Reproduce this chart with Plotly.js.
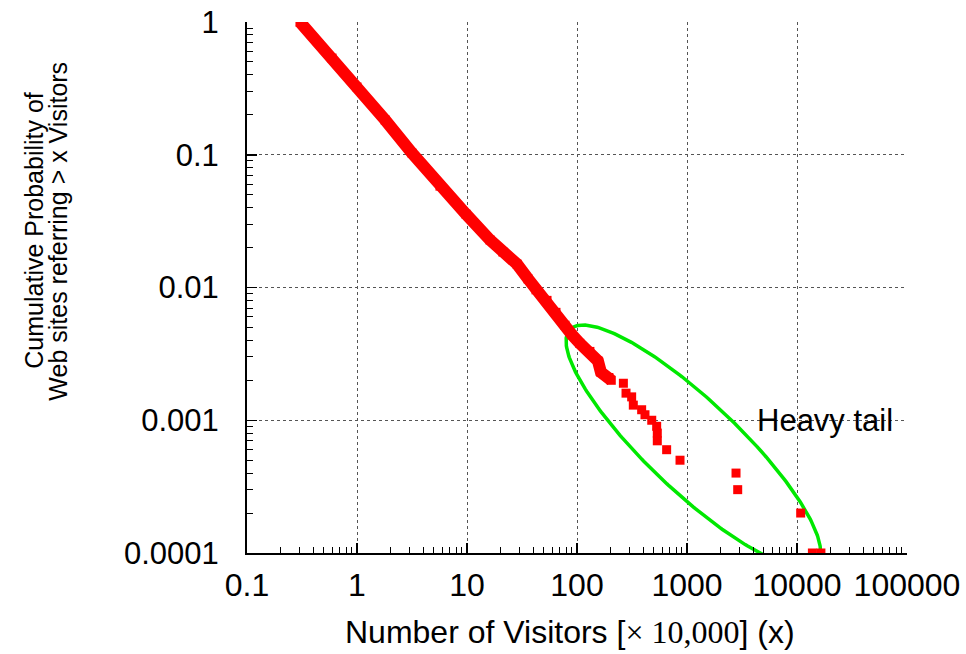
<!DOCTYPE html>
<html>
<head>
<meta charset="utf-8">
<script src="https://cdn.plot.ly/plotly-3.0.1.min.js"></script>
<style>html,body{margin:0;padding:0;background:#fff;}</style>
</head>
<body>
<div id="chart" style="width:966px;height:654px;"></div>
<script>
// Dense body of the distribution (visitors x10,000 ; cumulative probability)
const bodyVisitors = [0.303, 0.593, 1.0, 1.80, 3.16, 5.68, 9.8, 16.2, 21.2, 28.5, 35.9, 42.4, 53.4, 64.4, 77.8, 90.1, 106, 131, 155, 165, 195, 205];
const bodyProb     = [1.0, 0.535, 0.324, 0.183, 0.103, 0.058, 0.0357, 0.0228, 0.0185, 0.0150, 0.0116, 0.0096, 0.0080, 0.0065, 0.0052, 0.0044, 0.0038, 0.0033, 0.0028, 0.0023, 0.0021, 0.0020];

// Heavy tail points
const tailVisitors = [264, 279, 314, 325, 387, 415, 478, 530, 537, 537, 653, 864, 2790, 2890, 10800, 13800, 16500];
const tailProb     = [0.0019, 0.0016, 0.0015, 0.0013, 0.0012, 0.0011, 0.0010, 0.0009, 0.0008, 0.0007, 0.0006, 0.0005, 0.0004, 0.0003, 0.0002, 0.0001, 0.0001];

const xTickVals = [0.1, 1, 10, 100, 1000, 10000, 100000];
const xTickText = ["0.1", "1", "10", "100", "1000", "10000", "100000"];
const yTickVals = [0.0001, 0.001, 0.01, 0.1, 1];
const yTickText = ["0.0001", "0.001", "0.01", "0.1", "1"];

// ---- layout geometry ----
const W = 966, H = 654;
const M = {l: 247, r: 59, t: 22, b: 101};
const plotW = W - M.l - M.r, plotH = H - M.t - M.b;
const xRange = [-1, 5], yRange = [-4, 0];

function minorVals(lo, hi) {
  const v = [];
  for (let e = lo; e < hi; e++) for (let k = 2; k <= 9; k++) v.push(k * Math.pow(10, e));
  return v;
}

// Highlight ellipse (annotation shape) in plot-pixel space (origin bottom-left of plot area):
// centre plus two conjugate semi-diameters
const ellCentre = [446.3, 106.6];
const ellAxis1 = [63.5, 0];
const ellAxis2 = [-110.3, 121.4];
const ex = [], ey = [];
for (let i = 0; i <= 360; i++) {
  const t = i * Math.PI / 180;
  const px = ellCentre[0] + ellAxis1[0] * Math.cos(t) + ellAxis2[0] * Math.sin(t);
  const py = ellCentre[1] + ellAxis1[1] * Math.cos(t) + ellAxis2[1] * Math.sin(t);
  const lx = xRange[0] + (xRange[1] - xRange[0]) * px / plotW;
  const ly = yRange[0] + (yRange[1] - yRange[0]) * py / plotH;
  ex.push(Math.pow(10, lx)); ey.push(Math.pow(10, ly));
}

const red = '#ff0000';
const traces = [
  {x: ex, y: ey, type: 'scatter', mode: 'lines', line: {color: '#00e800', width: 3.5}, hoverinfo: 'skip', cliponaxis: true},
  {x: bodyVisitors, y: bodyProb, type: 'scatter', mode: 'lines+markers',
   line: {color: red, width: 12}, marker: {symbol: 'square', size: 9, color: red}},
  {x: tailVisitors, y: tailProb, type: 'scatter', mode: 'markers',
   marker: {symbol: 'square', size: 9, color: red}}
];

const fontFam = '"Liberation Sans", Arial, Helvetica, sans-serif';
const axisCommon = {
  type: 'log', showline: true, linecolor: '#000', linewidth: 2,
  ticks: 'inside', ticklen: 10, tickwidth: 1.5, tickcolor: '#000',
  showgrid: true, gridcolor: '#555', griddash: 'dot', gridwidth: 1,
  zeroline: false, tickmode: 'array'
};

const layout = {
  width: W, height: H,
  margin: M,
  paper_bgcolor: '#fff', plot_bgcolor: '#fff',
  showlegend: false,
  font: {family: fontFam, color: '#000'},
  xaxis: Object.assign({}, axisCommon, {
    range: xRange, tickvals: xTickVals, ticktext: xTickText,
    tickfont: {family: fontFam, size: 32, color: '#000'}, ticklabelstandoff: 3,
    minor: {tickmode: 'array', tickvals: minorVals(-1, 5), ticks: 'inside', ticklen: 6, tickcolor: '#000', tickwidth: 1, showgrid: false}
  }),
  yaxis: Object.assign({}, axisCommon, {
    range: yRange, tickvals: yTickVals, ticktext: yTickText,
    tickfont: {family: fontFam, size: 31, color: '#000'}, ticklabelstandoff: 20,
    minor: {tickmode: 'array', tickvals: minorVals(-4, 0), ticks: 'inside', ticklen: 6, tickcolor: '#000', tickwidth: 1, showgrid: false}
  }),
  annotations: [
    {text: 'Number of Visitors [<span style="font-family:\'Liberation Serif\',serif">× 10,000</span>] (x)',
     xref: 'paper', yref: 'paper', x: 0.489, y: -0.149, xanchor: 'center', yanchor: 'middle',
     showarrow: false, font: {family: fontFam, size: 32, color: '#000'}},
    {text: 'Cumulative Probability of', textangle: -90,
     xref: 'paper', yref: 'paper', x: -0.3227, y: 0.607, xanchor: 'center', yanchor: 'middle',
     showarrow: false, font: {family: fontFam, size: 25, color: '#000'}},
    {text: 'Web sites referring > x Visitors', textangle: -90,
     xref: 'paper', yref: 'paper', x: -0.2864, y: 0.607, xanchor: 'center', yanchor: 'middle',
     showarrow: false, font: {family: fontFam, size: 25, color: '#000'}},
    {text: 'Heavy tail', xref: 'paper', yref: 'paper', x: 0.77, y: 0.2486,
     xanchor: 'left', yanchor: 'middle', showarrow: false,
     font: {family: fontFam, size: 31, color: '#000'}}
  ]
};

Plotly.newPlot('chart', traces, layout, {staticPlot: true, displayModeBar: false});
</script>
</body>
</html>
